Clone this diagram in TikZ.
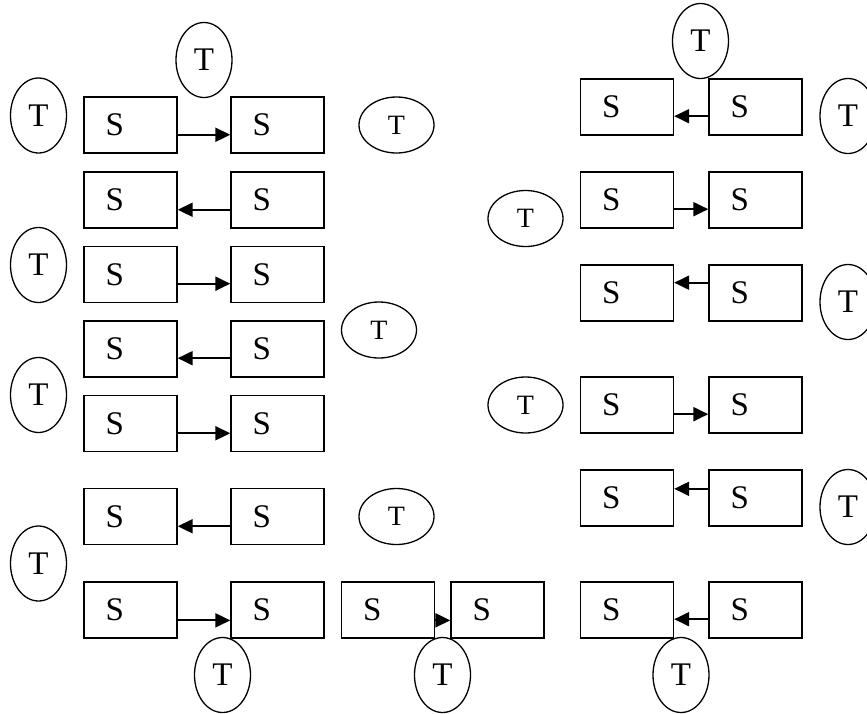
\documentclass[tikz,border=0pt]{standalone}
\usepackage{fontspec}
\setmainfont{Liberation Serif}
\usetikzlibrary{shapes.geometric,arrows.meta,calc}

\begin{document}
\begin{tikzpicture}
  [x=1pt,y=-1pt,
   sbox/.style={draw,line width=1.4pt,minimum width=93pt,minimum height=56pt,inner sep=0pt,text width=50pt,align=left,font=\fontsize{33}{38}\selectfont},
   tall/.style={ellipse,draw,line width=1.3pt,minimum width=56pt,minimum height=75pt,inner sep=0pt,font=\fontsize{33}{38}\selectfont},
   wide/.style={ellipse,draw,line width=1.3pt,minimum width=75pt,minimum height=56pt,inner sep=0pt,font=\fontsize{28}{32}\selectfont},
   link/.style={line width=2pt,-{Triangle[length=15pt,width=14pt]}}]
\useasboundingbox (0,0) rectangle (867,713);

% left column
\node (s1)[sbox] at (130.5,125) {S};
\node (s2)[sbox] at (277.5,125) {S};
\node (s3)[sbox] at (130.5,200) {S};
\node (s4)[sbox] at (277.5,200) {S};
\node (s5)[sbox] at (130.5,274.5) {S};
\node (s6)[sbox] at (277.5,274.5) {S};
\node (s7)[sbox] at (130.5,349) {S};
\node (s8)[sbox] at (277.5,349) {S};
\node (s9)[sbox] at (130.5,423.5) {S};
\node (s10)[sbox] at (277.5,423.5) {S};
\node (s11)[sbox] at (130.5,516.5) {S};
\node (s12)[sbox] at (277.5,516.5) {S};
\node (s13)[sbox] at (130.5,610) {S};
\node (s14)[sbox] at (277.5,610) {S};
% middle
\node (s15)[sbox] at (388,610) {S};
\node (s16)[sbox] at (497.5,610) {S};
% right column
\node (s17)[sbox] at (627,107) {S};
\node (s18)[sbox] at (755.5,107) {S};
\node (s19)[sbox] at (627,200) {S};
\node (s20)[sbox] at (755.5,200) {S};
\node (s21)[sbox] at (627,293) {S};
\node (s22)[sbox] at (755.5,293) {S};
\node (s23)[sbox] at (627,405) {S};
\node (s24)[sbox] at (755.5,405) {S};
\node (s25)[sbox] at (627,498) {S};
\node (s26)[sbox] at (755.5,498) {S};
\node (s27)[sbox] at (627,610) {S};
\node (s28)[sbox] at (755.5,610) {S};

% T ellipses
\node (t1)[tall] at (38.5,115.5) {T};
\node (t2)[tall] at (204,60) {T};
\node (t3)[tall] at (38.5,265) {T};
\node (t4)[tall] at (38.5,395) {T};
\node (t5)[tall] at (38.5,563.5) {T};
\node (t6)[tall] at (222.5,675) {T};
\node (t7)[tall] at (442.5,675) {T};
\node (t8)[tall] at (681,675) {T};
\node (t9)[tall] at (700.5,41) {T};
\node (t10)[tall] at (848,116) {T};
\node (t11)[tall] at (848,302) {T};
\node (t12)[tall] at (848,507) {T};
\node (t13)[wide] at (396.5,125) {T};
\node (t14)[wide] at (379,330) {T};
\node (t15)[wide] at (396.5,516.5) {T};
\node (t16)[wide] at (525.5,218.5) {T};
\node (t17)[wide] at (525.5,405) {T};

% arrows left to right
\foreach \from/\to/\f in {s1/s2/0.67,s5/s6/0.66,s9/s10/0.67,s13/s14/0.68,s15/s16/0.68,s19/s20/0.66,s23/s24/0.66}
  \draw[link] ($(\from.north east)!\f!(\from.south east)$) -- ($(\to.north west)!\f!(\to.south west)$);
% arrows right to left
\foreach \from/\to/\f in {s4/s3/0.67,s8/s7/0.66,s12/s11/0.67,s18/s17/0.66,s22/s21/0.32,s26/s25/0.34,s28/s27/0.66}
  \draw[link] ($(\from.north west)!\f!(\from.south west)$) -- ($(\to.north east)!\f!(\to.south east)$);
\end{tikzpicture}
\end{document}
